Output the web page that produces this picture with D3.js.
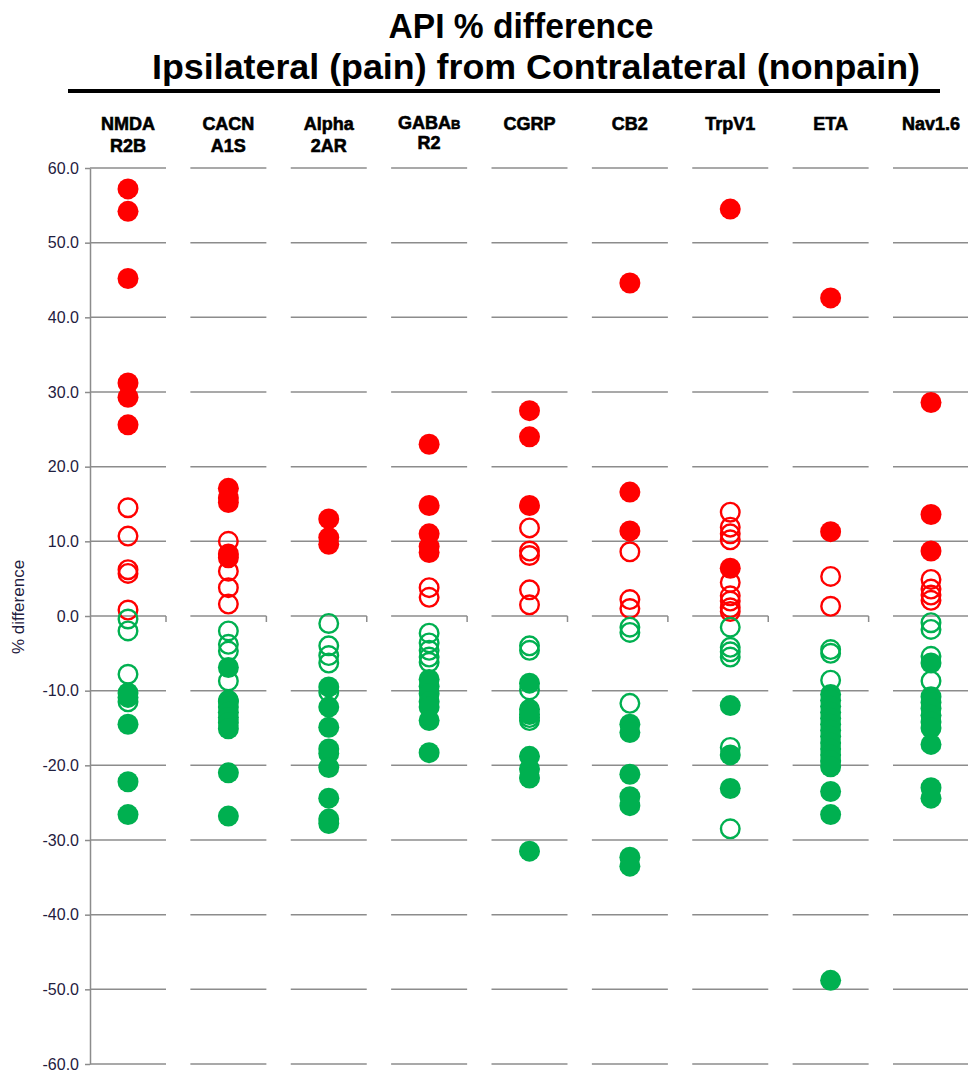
<!DOCTYPE html>
<html>
<head>
<meta charset="utf-8">
<script src="https://cdn.jsdelivr.net/npm/d3@7"></script>
<style>
  body { margin: 0; background: #fff; }
  svg { display: block; }
</style>
</head>
<body>
<div id="chart"></div>
<script>
// Genes (one small panel each), header split on two lines
var categories = ["NMDA R2B", "CACN A1S", "Alpha 2AR", "GABAB R2", "CGRP", "CB2", "TrpV1", "ETA", "Nav1.6"];
var headerLine1 = ["NMDA", "CACN", "Alpha", "GABA", "CGRP", "CB2", "TrpV1", "ETA", "Nav1.6"];
var headerLine2 = ["R2B", "A1S", "2AR", "R2", "", "", "", "", ""];

// % difference, filled markers
var filledValues = [
  [57.2, 54.2, 45.2, 31.2, 29.3, 25.6, -10.3, -10.9, -14.5, -22.2, -26.6],
  [17.1, 15.8, 15.2, 8.3, 7.8, -6.9, -11.5, -12.2, -12.9, -13.6, -14.3, -15.1, -21.0, -26.8],
  [13.0, 10.5, 9.6, -9.5, -12.2, -14.9, -17.8, -18.4, -20.3, -24.4, -27.2, -27.8],
  [23.0, 14.8, 11.0, 9.3, 8.5, -8.5, -9.4, -10.4, -11.5, -12.2, -14.0, -18.3],
  [27.5, 24.0, 14.8, -9.0, -12.5, -13.2, -18.8, -20.5, -21.7, -31.5],
  [44.6, 16.6, 11.4, -14.5, -15.6, -21.2, -24.2, -25.4, -32.3, -33.5],
  [54.5, 6.4, -12.0, -18.6, -23.1],
  [42.6, 11.3, -10.5, -11.3, -12.1, -12.9, -13.7, -14.5, -15.3, -16.1, -17.0, -17.8, -18.6, -19.4, -20.2, -23.5, -26.6, -48.8],
  [28.6, 13.6, 8.7, -6.3, -10.8, -11.6, -12.4, -13.3, -14.2, -15.0, -17.2, -23.0, -24.4]
];

// % difference, open markers
var openValues = [
  [14.5, 10.7, 6.2, 5.7, 0.8, -0.4, -2.0, -7.8, -11.5],
  [10.0, 6.0, 3.8, 1.6, -2.0, -3.8, -4.7, -8.7, -11.3],
  [-1.0, -4.0, -5.3, -6.3, -10.2],
  [3.8, 2.5, -2.3, -3.6, -4.6, -5.5, -6.2],
  [11.8, 8.7, 8.1, 3.5, 1.5, -4.0, -4.6, -9.9, -13.6, -14.0],
  [8.6, 2.2, 1.0, -1.5, -2.2, -11.7],
  [13.9, 11.9, 11.0, 10.2, 4.5, 2.7, 2.0, 1.1, 0.6, -1.5, -4.2, -4.8, -5.5, -17.6, -28.5],
  [5.3, 1.3, -4.5, -5.0, -8.6],
  [4.9, 3.6, 2.8, 2.1, -0.9, -1.8, -5.4, -8.7]
];

var yTicks = [60, 50, 40, 30, 20, 10, 0, -10, -20, -30, -40, -50, -60];

var width = 968, height = 1070;
var red = "#ff0000", green = "#00b050", gridColor = "#8c8c8c";

var svg = d3.select("#chart").append("svg")
    .attr("width", width)
    .attr("height", height);

// column centres and value scale
var x = d3.scalePoint()
    .domain(categories)
    .range([128, 931]);
var y = d3.scaleLinear()
    .domain([-60, 60])
    .range([1064, 168]);
var halfSeg = 38;

// title
svg.append("text")
    .attr("x", 521).attr("y", 38)
    .attr("text-anchor", "middle")
    .attr("textLength", 265)
    .attr("lengthAdjust", "spacingAndGlyphs")
    .style("font-family", "Liberation Sans, Arial, sans-serif")
    .style("font-weight", "bold")
    .style("font-size", "35px")
    .text("API % difference");
svg.append("text")
    .attr("x", 536).attr("y", 79)
    .attr("text-anchor", "middle")
    .attr("textLength", 768)
    .attr("lengthAdjust", "spacingAndGlyphs")
    .style("font-family", "Liberation Sans, Arial, sans-serif")
    .style("font-weight", "bold")
    .style("font-size", "35px")
    .text("Ipsilateral (pain) from Contralateral (nonpain)");
svg.append("line")
    .attr("x1", 68).attr("x2", 940)
    .attr("y1", 91).attr("y2", 91)
    .attr("stroke", "#000")
    .attr("stroke-width", 4);

// column headers
var headers = svg.append("g")
    .style("font-family", "Liberation Sans, Arial, sans-serif")
    .style("font-weight", "bold")
    .style("font-size", "18px")
    .attr("stroke", "#000")
    .attr("stroke-width", 0.6)
    .attr("text-anchor", "middle");
categories.forEach(function(c, i) {
    var t = headers.append("text")
        .attr("x", x(c))
        .attr("y", c === "GABAB R2" ? 129 : 130);
    t.append("tspan").text(headerLine1[i]);
    if (c === "GABAB R2") {
        t.append("tspan").style("font-size", "13px").text("B");
    }
    if (headerLine2[i]) {
        headers.append("text")
            .attr("x", x(c))
            .attr("y", c === "GABAB R2" ? 149 : 152)
            .text(headerLine2[i]);
    }
});

// y axis
var yAxis = svg.append("g")
    .attr("transform", "translate(90,0)")
    .call(d3.axisLeft(y).tickValues(yTicks).tickSize(5).tickSizeOuter(0)
        .tickFormat(d => d.toFixed(1)));
yAxis.select(".domain").attr("stroke", gridColor).attr("stroke-width", 1.5);
yAxis.selectAll(".tick line").attr("stroke", gridColor).attr("stroke-width", 1.5);
yAxis.selectAll(".tick text")
    .attr("x", -11)
    .style("font-family", "Liberation Sans, Arial, sans-serif")
    .style("font-size", "16px")
    .attr("fill", "#1f2040");

svg.append("text")
    .attr("transform", "translate(24,607) rotate(-90)")
    .attr("text-anchor", "middle")
    .style("font-family", "Liberation Sans, Arial, sans-serif")
    .style("font-size", "17px")
    .attr("fill", "#1f2040")
    .text("% difference");

// gridline segments for each panel
var grid = svg.append("g");
categories.forEach(function(c) {
    grid.selectAll(null)
        .data(yTicks)
        .enter().append("line")
        .attr("x1", x(c) - halfSeg)
        .attr("x2", x(c) + halfSeg)
        .attr("y1", d => y(d))
        .attr("y2", d => y(d))
        .attr("stroke", gridColor)
        .attr("stroke-width", 1.5);
    // small end tick on the zero axis
    grid.append("line")
        .attr("x1", x(c) + halfSeg).attr("x2", x(c) + halfSeg)
        .attr("y1", y(0)).attr("y2", y(0) + 6)
        .attr("stroke", gridColor)
        .attr("stroke-width", 1.5);
});

// markers
var marks = svg.append("g");
categories.forEach(function(c, i) {
    marks.selectAll(null)
        .data(openValues[i])
        .enter().append("circle")
        .attr("cx", x(c))
        .attr("cy", d => y(d))
        .attr("r", 9.3)
        .attr("fill", "none")
        .attr("stroke", d => d >= 0 ? red : green)
        .attr("stroke-width", 2.4);
    marks.selectAll(null)
        .data(filledValues[i])
        .enter().append("circle")
        .attr("cx", x(c))
        .attr("cy", d => y(d))
        .attr("r", 10.5)
        .attr("fill", d => d >= 0 ? red : green);
});
</script>
</body>
</html>
